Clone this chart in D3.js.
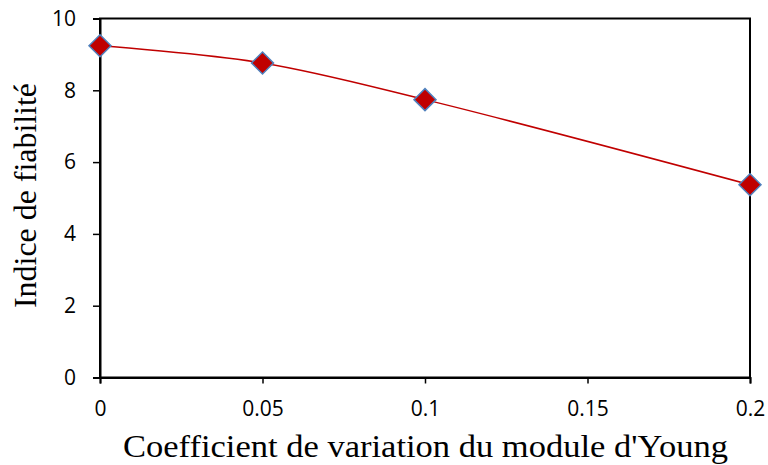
<!DOCTYPE html>
<html>
<head>
<meta charset="utf-8">
<script src="https://cdn.jsdelivr.net/npm/d3@7"></script>
<style>
  body { margin: 0; background: #fff; }
  .title { font-family: 'Liberation Serif', 'Times New Roman', serif; font-size: 31px; fill: #000; }
</style>
</head>
<body>
<svg id="chart" width="768" height="465"></svg>
<script>
'use strict';

// coefficient of variation of Young's modulus vs reliability index
const cvValues = [0, 0.05, 0.1, 0.2];
const betaValues = [9.24, 8.76, 7.74, 5.37];
const xTicks = [0, 0.05, 0.1, 0.15, 0.2];
const yTicks = [0, 2, 4, 6, 8, 10];

const svg = d3.select('#chart');
const plotL = 100, plotR = 750, plotT = 18.5, plotB = 377.5;

const x = d3.scaleLinear().domain([0, 0.2]).range([plotL, plotR]);
const y = d3.scaleLinear().domain([0, 10]).range([plotB, plotT]);

// frame
svg.append('rect')
  .attr('x', plotL).attr('y', plotT)
  .attr('width', plotR - plotL).attr('height', plotB - plotT)
  .attr('fill', 'none').attr('stroke', '#000').attr('stroke-width', 2);

const xAxis = svg.append('g')
  .attr('transform', `translate(0,${plotB})`)
  .call(d3.axisBottom(x).tickValues(xTicks).tickSize(6).tickPadding(18)
    .tickFormat(d => d3.format('')(d)));
const yAxis = svg.append('g')
  .attr('transform', `translate(${plotL},0)`)
  .call(d3.axisLeft(y).tickValues(yTicks).tickSize(7).tickPadding(17));

[xAxis, yAxis].forEach(a => {
  a.attr('font-family', "'Open Sans', 'Liberation Sans', sans-serif")
    .attr('font-size', 21);
  a.select('.domain').attr('stroke', '#000').attr('stroke-width', 2);
  a.selectAll('.tick line').attr('stroke', '#000').attr('stroke-width', 1.5);
  a.selectAll('.tick text').attr('fill', '#000');
});

const pts = cvValues.map((c, i) => [c, betaValues[i]]);

const line = d3.line()
  .x(d => x(d[0]))
  .y(d => y(d[1]))
  .curve(d3.curveCatmullRom.alpha(0.5));

svg.append('path')
  .datum(pts)
  .attr('d', line)
  .attr('fill', 'none')
  .attr('stroke', '#C00000')
  .attr('stroke-width', 1.5);

svg.append('g')
  .selectAll('path')
  .data(pts)
  .enter().append('path')
  .attr('transform', d => `translate(${x(d[0])},${y(d[1])})`)
  .attr('d', 'M0,-11L11,0L0,11L-11,0Z')
  .attr('fill', '#C00000')
  .attr('stroke', '#4F81BD')
  .attr('stroke-width', 1.5);

// axis titles (the source glyphs are a bit stretched, hence textLength)
svg.append('text')
  .attr('class', 'title')
  .attr('x', 123).attr('y', 457)
  .attr('textLength', 605)
  .attr('lengthAdjust', 'spacingAndGlyphs')
  .text("Coefficient de variation du module d'Young");

svg.append('text')
  .attr('class', 'title')
  .attr('transform', 'translate(36,308) rotate(-90)')
  .attr('textLength', 225)
  .attr('lengthAdjust', 'spacingAndGlyphs')
  .text('Indice de fiabilité');
</script>
</body>
</html>
